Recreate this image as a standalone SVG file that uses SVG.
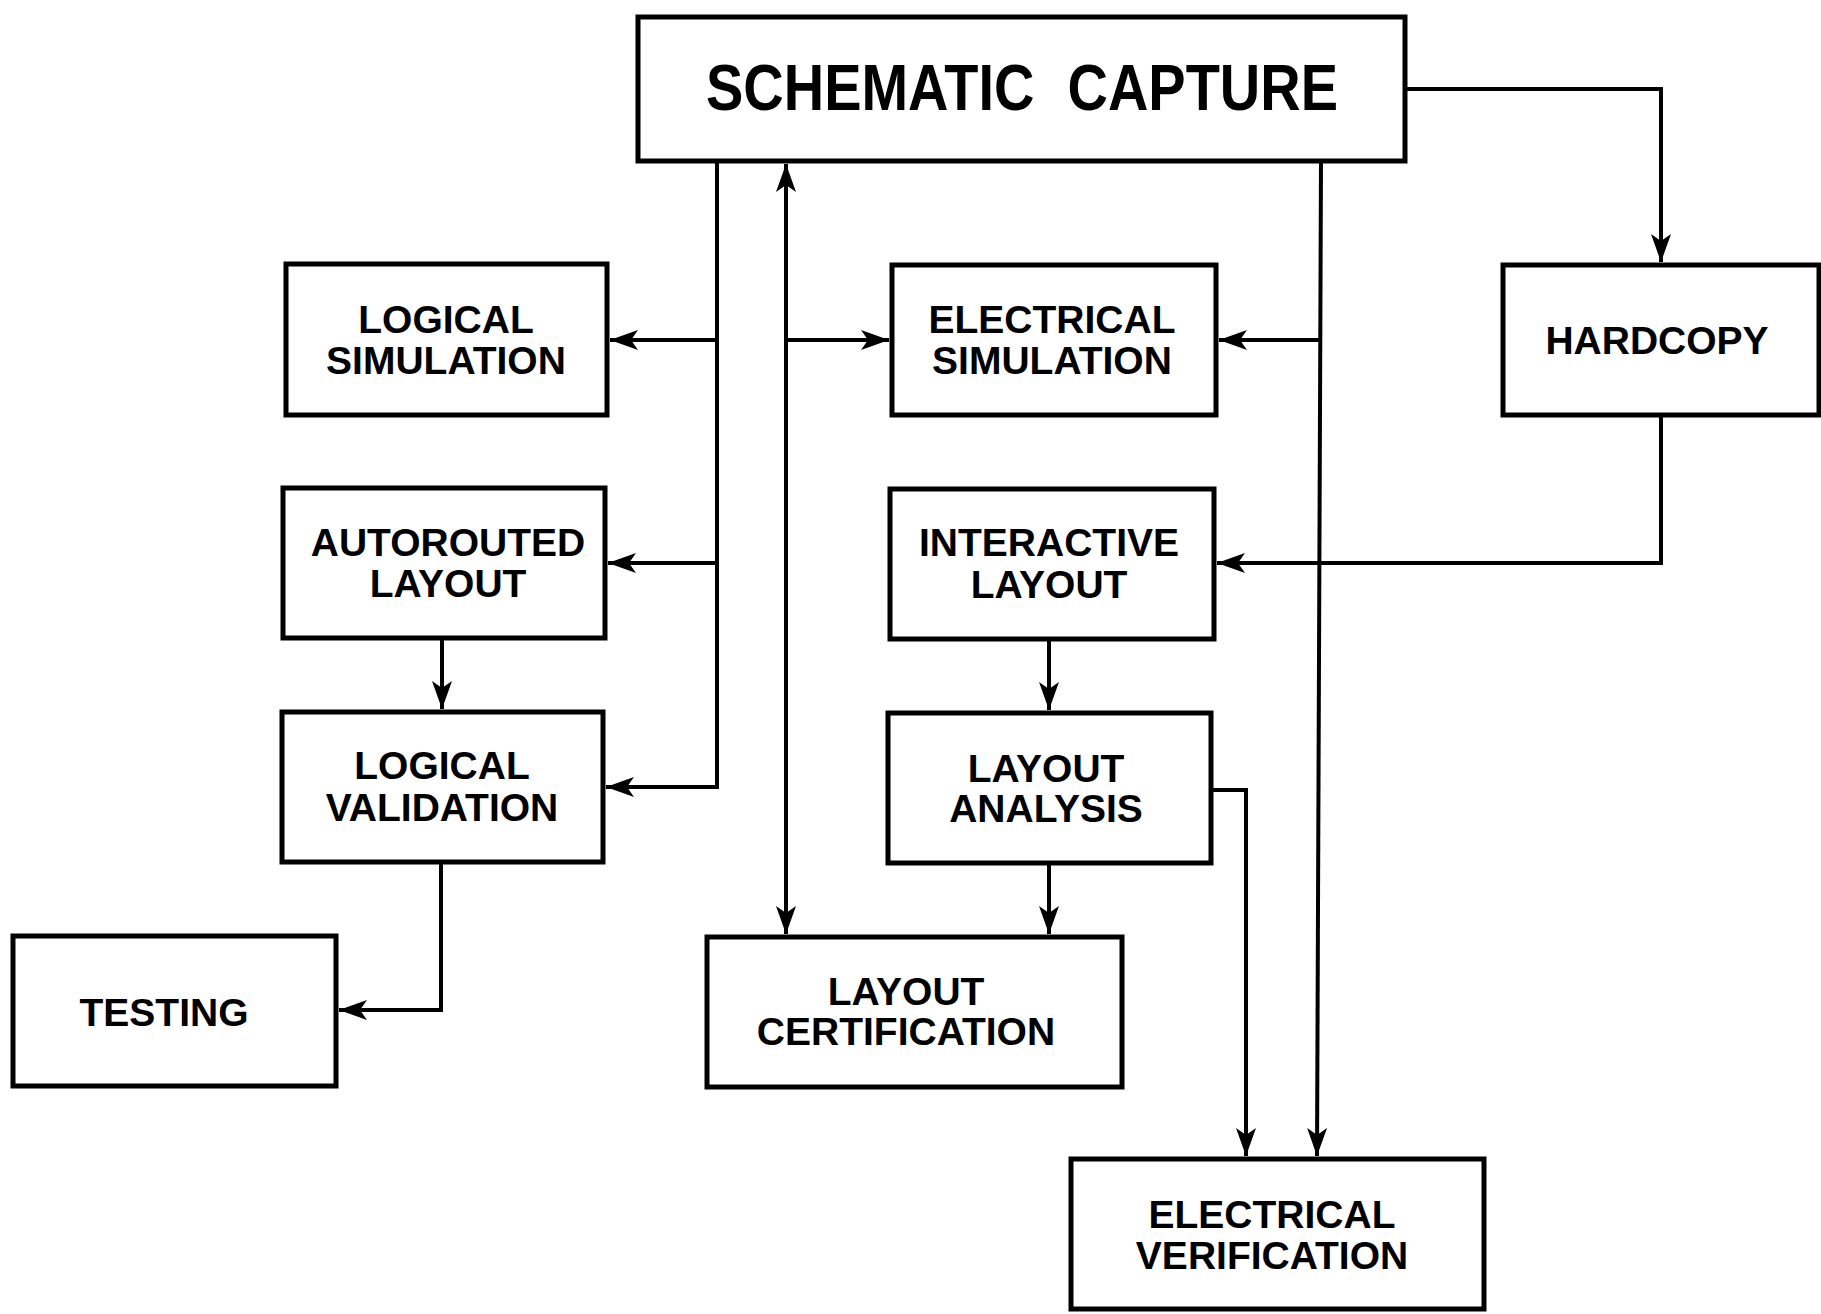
<svg xmlns="http://www.w3.org/2000/svg" width="1821" height="1314" viewBox="0 0 1821 1314">
<style>
.box{fill:#fff;stroke:#000;stroke-width:5}
.lbl{font-family:"Liberation Sans",Arial,sans-serif;font-weight:bold;font-size:39px;fill:#000;text-anchor:middle}
.title{font-family:"Liberation Sans",Arial,sans-serif;font-weight:bold;font-size:64px;fill:#000;text-anchor:middle}
.conn{fill:none;stroke:#000;stroke-width:4;stroke-linejoin:miter}
</style>
<defs>
<marker id="arr" markerUnits="userSpaceOnUse" markerWidth="30" markerHeight="22" refX="28" refY="10" orient="auto-start-reverse" viewBox="0 0 30 22">
<path d="M0,0 L28,10 L0,20 L7,10 Z" fill="#000"/>
</marker>
</defs>
<rect width="1821" height="1314" fill="#fff"/>
<g id="connectors">
<path class="conn" d="M717,161 V787 H606" marker-end="url(#arr)"/>
<path class="conn" d="M717,340 H610" marker-end="url(#arr)"/>
<path class="conn" d="M717,563 H608" marker-end="url(#arr)"/>
<path class="conn" d="M786,164 V934" marker-start="url(#arr)" marker-end="url(#arr)"/>
<path class="conn" d="M786,340 H889" marker-end="url(#arr)"/>
<path class="conn" d="M1321,161 L1317,1156" marker-end="url(#arr)"/>
<path class="conn" d="M1321,340 H1219" marker-end="url(#arr)"/>
<path class="conn" d="M1405,89 H1661 V262" marker-end="url(#arr)"/>
<path class="conn" d="M1661,415 V563 H1217" marker-end="url(#arr)"/>
<path class="conn" d="M442,638 V709" marker-end="url(#arr)"/>
<path class="conn" d="M1049,639 V710" marker-end="url(#arr)"/>
<path class="conn" d="M1049,863 V934" marker-end="url(#arr)"/>
<path class="conn" d="M441,862 V1010 H339" marker-end="url(#arr)"/>
<path class="conn" d="M1211,790 H1246 V1156" marker-end="url(#arr)"/>
</g>
<g id="schematic-capture">
<rect class="box" x="638" y="17" width="767" height="144"/>
<text class="title" x="1022" y="110" textLength="632" lengthAdjust="spacingAndGlyphs" word-spacing="20">SCHEMATIC CAPTURE</text>
</g>
<g id="logical-simulation">
<rect class="box" x="286" y="264" width="321" height="151"/>
<text class="lbl" x="446" y="333">LOGICAL</text>
<text class="lbl" x="446" y="374">SIMULATION</text>
</g>
<g id="electrical-simulation">
<rect class="box" x="892" y="265" width="324" height="150"/>
<text class="lbl" x="1052" y="333">ELECTRICAL</text>
<text class="lbl" x="1052" y="374">SIMULATION</text>
</g>
<g id="hardcopy">
<rect class="box" x="1503" y="265" width="316" height="150"/>
<text class="lbl" x="1657" y="354">HARDCOPY</text>
</g>
<g id="autorouted-layout">
<rect class="box" x="283" y="488" width="322" height="150"/>
<text class="lbl" x="448" y="556">AUTOROUTED</text>
<text class="lbl" x="448" y="597">LAYOUT</text>
</g>
<g id="interactive-layout">
<rect class="box" x="890" y="489" width="324" height="150"/>
<text class="lbl" x="1049" y="556">INTERACTIVE</text>
<text class="lbl" x="1049" y="598">LAYOUT</text>
</g>
<g id="logical-validation">
<rect class="box" x="282" y="712" width="321" height="150"/>
<text class="lbl" x="442" y="779">LOGICAL</text>
<text class="lbl" x="442" y="821">VALIDATION</text>
</g>
<g id="layout-analysis">
<rect class="box" x="888" y="713" width="323" height="150"/>
<text class="lbl" x="1046" y="782">LAYOUT</text>
<text class="lbl" x="1046" y="822">ANALYSIS</text>
</g>
<g id="testing">
<rect class="box" x="13" y="936" width="323" height="150"/>
<text class="lbl" x="164" y="1026">TESTING</text>
</g>
<g id="layout-certification">
<rect class="box" x="707" y="937" width="415" height="150"/>
<text class="lbl" x="906" y="1005">LAYOUT</text>
<text class="lbl" x="906" y="1045">CERTIFICATION</text>
</g>
<g id="electrical-verification">
<rect class="box" x="1071" y="1159" width="413" height="150"/>
<text class="lbl" x="1272" y="1228">ELECTRICAL</text>
<text class="lbl" x="1272" y="1269">VERIFICATION</text>
</g>
</svg>
